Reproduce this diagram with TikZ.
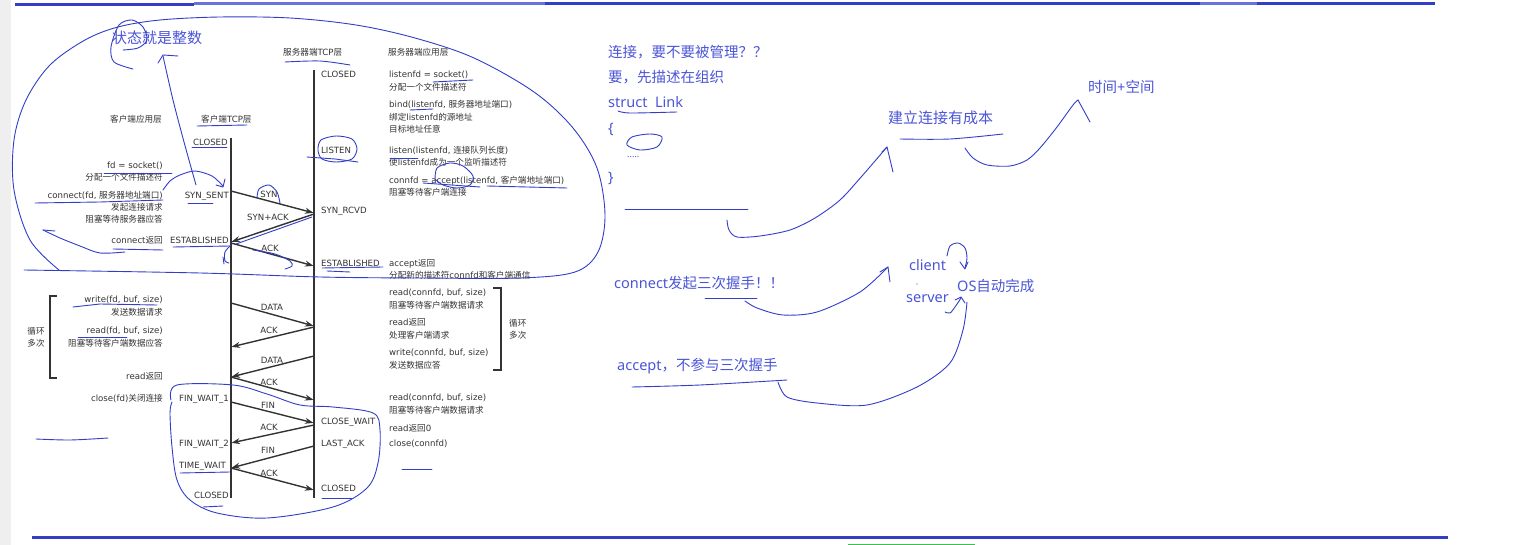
\documentclass[tikz,border=0pt]{standalone}
\usepackage{fontspec}
\setmainfont{DejaVu Sans}
\newfontfamily\zhfont{Noto Sans CJK SC}
\newfontfamily\notofont{Noto Sans}
\usetikzlibrary{arrows.meta}
\newcommand\zh[1]{{\zhfont #1}}
\definecolor{ink}{HTML}{333333}
\definecolor{handc}{RGB}{50,62,200}
\definecolor{handtext}{RGB}{75,85,215}
\definecolor{barlight}{RGB}{105,115,220}
\definecolor{stripc}{HTML}{EFEFEF}
\definecolor{greenbar}{RGB}{60,190,80}
\tikzset{
  tl/.style={font=\fontsize{8.6}{10}\selectfont, text=ink, inner sep=0pt, anchor=base west},
  tr/.style={tl, anchor=base east},
  tc/.style={tl, anchor=base},
  bt/.style={font=\fontsize{14.5}{17}\selectfont\notofont, text=handtext, inner sep=0pt, anchor=base west},
  hand/.style={draw=handc, line width=0.9pt, line cap=round, line join=round},
  msg/.style={draw=ink, line width=1.4pt, shorten >=0.5pt, -{Stealth[length=8.5pt,width=6pt]}},
  life/.style={draw=ink, line width=2pt},
  brk/.style={draw=ink, line width=1.4pt}
}
\begin{document}
\begin{tikzpicture}[x=1pt,y=-1pt]
\useasboundingbox (0,0) rectangle (1540,545);
\fill[white] (0,0) rectangle (1540,545);
\fill[stripc] (0,0) rectangle (11,545);
% frame bars
\draw[handc, line width=3pt] (15,4.5) -- (194,4.5);
\draw[barlight, line width=3pt] (194,4) -- (545,4);
\draw[handc, line width=3pt] (545,4) -- (1200,4);
\draw[barlight, line width=3pt] (1200,3.5) -- (1257,3.5);
\draw[handc, line width=3pt] (1257,3.5) -- (1435,3.5);
\draw[handc, line width=3pt] (32,537) -- (1448,537);
\draw[greenbar, line width=2pt] (848,544.5) -- (975,544.5);

% lifelines
\coordinate (cl0) at (231,138); \coordinate (cl1) at (231,498);
\coordinate (sl0) at (314,70);  \coordinate (sl1) at (314,498);
\draw[life] (cl0) -- (cl1);
\draw[life] (sl0) -- (sl1);

% headers
\node[tl] (hst) at (283,55.2) {\zh{服务器端}TCP\zh{层}};
\node[tl] (hsa) at (388,55.2) {\zh{服务器端应用层}};
\node[tl] (hca) at (110,122.2) {\zh{客户端应用层}};
\node[tl] (hct) at (201,122.2) {\zh{客户端}TCP\zh{层}};

% client states
\node[tr] (cclosed) at (228,145.2) {CLOSED};
\node[tr] (csyn) at (229,198.2) {SYN\_SENT};
\node[tr] (cest) at (229,243.2) {ESTABLISHED};
\node[tl] (fw1) at (179,401.2) {FIN\_WAIT\_1};
\node[tl] (fw2) at (179,446.2) {FIN\_WAIT\_2};
\node[tl] (tw) at (179,468.2) {TIME\_WAIT};
\node[tr] (cclosedb) at (229,498.2) {CLOSED};

% server states
\node[tl] (sclosed) at (321,77.2) {CLOSED};
\node[tl] (slisten) at (321,153.2) {LISTEN};
\node[tl] (srcvd) at (321,213.2) {SYN\_RCVD};
\node[tl] (sest) at (321,266.2) {ESTABLISHED};
\node[tl] (scw) at (321,424.2) {CLOSE\_WAIT};
\node[tl] (sla) at (321,446.2) {LAST\_ACK};
\node[tl] (sclosedb) at (321,491.2) {CLOSED};

% server application
\node[tl] (a1) at (389,77.2) {listenfd = socket()};
\node[tl] (a2) at (389,90.2) {\zh{分配一个文件描述符}};
\node[tl] (a3) at (389,107.2) {bind(listenfd, \zh{服务器地址端口})};
\node[tl] (a4) at (389,120.2) {\zh{绑定}listenfd\zh{的源地址}};
\node[tl] (a5) at (389,132.2) {\zh{目标地址任意}};
\node[tl] (a6) at (389,153.2) {listen(listenfd, \zh{连接队列长度})};
\node[tl] (a7) at (389,165.2) {\zh{使}listenfd\zh{成为一个监听描述符}};
\node[tl] (a8) at (389,183.2) {connfd = accept(listenfd, \zh{客户端地址端口})};
\node[tl] (a9) at (389,195.2) {\zh{阻塞等待客户端连接}};
\node[tl] (a10) at (389,266.2) {accept\zh{返回}};
\node[tl] (a11) at (389,278.2) {\zh{分配新的描述符}connfd\zh{和客户端通信}};
\node[tl] (a12) at (389,295.2) {read(connfd, buf, size)};
\node[tl] (a13) at (389,308.2) {\zh{阻塞等待客户端数据请求}};
\node[tl] (a14) at (389,325.2) {read\zh{返回}};
\node[tl] (a15) at (389,338.2) {\zh{处理客户端请求}};
\node[tl] (a16) at (389,355.2) {write(connfd, buf, size)};
\node[tl] (a17) at (389,368.2) {\zh{发送数据应答}};
\node[tl] (a18) at (389,400.2) {read(connfd, buf, size)};
\node[tl] (a19) at (389,413.2) {\zh{阻塞等待客户端数据请求}};
\node[tl] (a20) at (389,431.2) {read\zh{返回}0};
\node[tl] (a21) at (389,446.2) {close(connfd)};

% client application
\node[tr] (b1) at (163,168.2) {fd = socket()};
\node[tr] (b2) at (163,180.2) {\zh{分配一个文件描述符}};
\node[tr] (b3) at (163,198.2) {connect(fd, \zh{服务器地址端口})};
\node[tr] (b4) at (163,210.2) {\zh{发起连接请求}};
\node[tr] (b5) at (163,222.2) {\zh{阻塞等待服务器应答}};
\node[tr] (b6) at (163,243.2) {connect\zh{返回}};
\node[tr] (b7) at (163,302.2) {write(fd, buf, size)};
\node[tr] (b8) at (163,315.2) {\zh{发送数据请求}};
\node[tr] (b9) at (163,333.2) {read(fd, buf, size)};
\node[tr] (b10) at (163,346.2) {\zh{阻塞等待客户端数据应答}};
\node[tr] (b11) at (163,379.2) {read\zh{返回}};
\node[tr] (b12) at (163,401.2) {close(fd)\zh{关闭连接}};

% loop brackets
\draw[brk] (57,296) -- (50,296) -- (50,378) -- (57,378);
\node[tc] (lp1) at (36,334.2) {\zh{循环}};
\node[tc] (lp2) at (36,346.2) {\zh{多次}};
\draw[brk] (493,288) -- (501,288) -- (501,370) -- (493,370);
\node[tl] (lp3) at (509,326.2) {\zh{循环}};
\node[tl] (lp4) at (509,338.2) {\zh{多次}};

% messages
\coordinate (m1a) at (231,191); \coordinate (m1b) at (314,213);
\coordinate (m2a) at (314,214); \coordinate (m2b) at (231,242);
\coordinate (m3a) at (231,243); \coordinate (m3b) at (314,266);
\coordinate (m4a) at (231,303); \coordinate (m4b) at (314,326);
\coordinate (m5a) at (314,327); \coordinate (m5b) at (231,347);
\coordinate (m6a) at (314,356); \coordinate (m6b) at (231,377);
\coordinate (m7a) at (231,377); \coordinate (m7b) at (314,400);
\coordinate (m8a) at (231,402); \coordinate (m8b) at (314,423);
\coordinate (m9a) at (314,425); \coordinate (m9b) at (231,443);
\coordinate (m10a) at (314,446); \coordinate (m10b) at (231,468);
\coordinate (m11a) at (231,468); \coordinate (m11b) at (314,490);
\draw[msg] (m1a) -- (m1b);
\draw[msg] (m2a) -- (m2b);
\draw[msg] (m3a) -- (m3b);
\draw[msg] (m4a) -- (m4b);
\draw[msg] (m5a) -- (m5b);
\draw[msg] (m6a) -- (m6b);
\draw[msg] (m7a) -- (m7b);
\draw[msg] (m8a) -- (m8b);
\draw[msg] (m9a) -- (m9b);
\draw[msg] (m10a) -- (m10b);
\draw[msg] (m11a) -- (m11b);
\node[tc] (l1) at (269,197.2) {SYN};
\node[tc] (l2) at (268,220.2) {SYN+ACK};
\node[tc] (l3) at (270,251.2) {ACK};
\node[tc] (l4) at (272,310.2) {DATA};
\node[tc] (l5) at (269,333.2) {ACK};
\node[tc] (l6) at (272,363.2) {DATA};
\node[tc] (l7) at (269,385.2) {ACK};
\node[tc] (l8) at (268,408.2) {FIN};
\node[tc] (l9) at (269,430.2) {ACK};
\node[tc] (l10) at (268,453.2) {FIN};
\node[tc] (l11) at (269,476.2) {ACK};

% blue notes text
\node[bt, font=\fontsize{15}{17}\selectfont\notofont] (n0) at (112,43.5) {\zh{状态就是整数}};
\node[bt] (n1) at (608,58) {\zh{连接，要不要被管理？？}};
\node[bt] (n2) at (608,83) {\zh{要，先描述在组织}};
\node[bt] (n3) at (608,107.5) {struct\ \ Link};
\node[bt] (n4) at (608,133.5) {\{};
\node[bt, font=\fontsize{9}{10}\selectfont\notofont] (n5) at (627,158) {.....};
\node[bt] (n6) at (608,182.5) {\}};
\node[bt, font=\fontsize{15}{17}\selectfont\notofont] (n7) at (888,123.5) {\zh{建立连接有成本}};
\node[bt] (n8) at (1088,92.3) {\zh{时间}+\zh{空间}};
\node[bt] (n9) at (614,288.3) {connect\zh{发起三次握手！！}};
\node[bt] (n10) at (909,271) {client};
\node[bt] (n11) at (906,302.5) {server};
\node[bt] (n12) at (957,291.3) {OS\zh{自动完成}};
\node[bt] (n13) at (617,370.3) {accept\zh{，不参与三次握手}};

% ---- handwritten strokes ----
% big loop
\draw[hand] plot[smooth,tension=0.55] coordinates {(59,270) (30,240) (14,190) (14,140) (26,100) (50,65) (85,40) (118,27) (160,20) (220,17) (290,18) (356,25) (415,38) (474,58) (534,92) (573,128) (597,168) (605,215) (598,252) (575,272) (520,278) (420,278) (320,277) (200,273) (24,270)};
% curl round first character
\draw[hand] plot[smooth] coordinates {(133,69) (114,62) (111,47) (119,25) (132,20) (143,27) (147,40) (138,48) (123,50)};
% arrow up to note
\draw[hand] plot[smooth] coordinates {(196,185) (184,142) (173,100) (163,56)};
\draw[hand] (158,63) -- (163,55) -- (178,56);
% curved arrow to SYN_SENT
\draw[hand] plot[smooth] coordinates {(163,190) (170,181) (180,175) (195,171) (212,176) (223,186)};
\draw[hand] (216,185) -- (223,187) -- (225,179);
% underlines client side
\draw[hand] (104,173) -- (172,173);
\draw[hand] (35,203) -- (100,202) -- (163,200);
\draw[hand] (188,203) -- (213,203);
\draw[hand] plot[smooth] coordinates {(43,230) (60,238) (80,246) (100,253) (125,252)};
\draw[hand] (43,230) -- (55,231);
\draw[hand] (113,249) -- (163,250);
\draw[hand] (173,247) -- (230,246);
\draw[hand] plot[smooth] coordinates {(231,245) (225,252) (225,261) (229,263)};
\draw[hand] (223,257) -- (224,264);
% SYN curl
\draw[hand] plot[smooth] coordinates {(257,198) (259,189) (269,185) (277,192) (280,203)};
% overlay along SYN+ACK
\draw[hand] (312,217) -- (236,244);
% ACK curl
\draw[hand] plot[smooth] coordinates {(253,250) (275,254) (290,261) (292,266) (285,269)};
% server side marks
\draw[hand] plot[smooth] coordinates {(285,62) (320,61) (350,65)};
\draw[hand] (197,126) -- (247,125);
\draw[hand] (192,147) -- (227,147);
\draw[hand] plot[smooth cycle] coordinates {(318,150) (321,140) (336,136) (352,139) (357,149) (352,159) (336,162) (322,159)};
\draw[hand] (307,157) -- (335,159) -- (358,162);
\draw[hand] (433,82) -- (473,80);
\draw[hand] (410,110) -- (433,109);
\draw[hand] (390,158) -- (418,158);
\draw[hand] plot[smooth] coordinates {(435,180) (437,168) (450,163) (463,166) (473,176) (470,185) (457,188) (443,185) (435,179)};
\draw[hand] (423,183) -- (480,187);
\draw[hand] (487,186) -- (567,188);
\draw[hand] (322,268) -- (383,267);
\draw[hand] (327,271) -- (350,272);
% lower client marks
\draw[hand] (73,307) -- (100,304) -- (157,305);
\draw[hand] (78,337) -- (127,337);
\draw[hand] plot[smooth,tension=0.55] coordinates {(171,400) (177,385) (233,385) (267,394) (300,405) (333,407) (373,413) (380,430) (378,463) (367,488) (333,507) (267,518) (217,513) (190,500) (177,480) (172,447) (170,413) (172,402)};
\draw[hand] (180,473) -- (230,472);
\draw[hand] (203,507) -- (223,506);
\draw[hand] (322,498) -- (352,498);
\draw[hand] plot[smooth] coordinates {(36,439) (70,440) (108,438)};
\draw[hand] (402,469) -- (432,469);
% right side marks
\draw[hand] plot[smooth] coordinates {(618,111) (630,113) (677,112)};
\draw[hand] plot[smooth cycle] coordinates {(627,145) (632,137) (650,134) (662,137) (657,147) (640,150)};
\draw[hand] (625,209) -- (748,209);
\draw[hand] plot[smooth] coordinates {(727,220) (729,230) (737,237) (760,236) (790,230) (815,218) (840,200) (862,176) (887,147)};
\draw[hand] (882,152) -- (887,147) -- (893,172);
\draw[hand] plot[smooth] coordinates {(900,139) (950,139) (1003,134)};
\draw[hand] plot[smooth] coordinates {(965,148) (973,158) (987,165) (1010,166) (1027,160) (1040,148) (1057,127) (1073,105) (1078,100)};
\draw[hand] (1078,100) -- (1090,122);
\draw[hand] (705,298) -- (757,298);
\draw[hand] plot[smooth] coordinates {(745,301) (757,308) (783,315) (817,312) (860,292) (888,267)};
\draw[hand] (880,272) -- (888,267) -- (890,282);
\draw[hand] plot[smooth] coordinates {(947,256) (950,246) (958,243) (965,248) (967,258) (965,268)};
\draw[hand] (960,262) -- (965,269) -- (968,262);
\draw[hand] plot[smooth] coordinates {(945,312) (950,313) (955,307) (961,298)};
\draw[hand] (955,300) -- (961,297) -- (965,303);
\draw[hand] plot[smooth] coordinates {(632,387) (700,385) (787,380)};
\draw[hand] plot[smooth] coordinates {(778,382) (787,397) (817,403) (867,405) (917,387) (950,363) (963,330) (967,302)};
\fill[handc] (917,284) circle (0.6pt);
\end{tikzpicture}
\end{document}
